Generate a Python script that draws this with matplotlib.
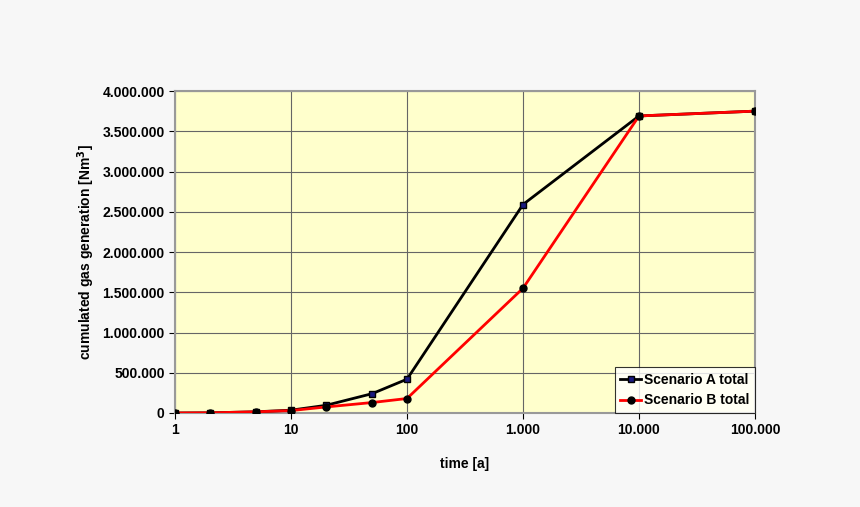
import matplotlib
matplotlib.use("Agg")
import matplotlib.pyplot as plt
from matplotlib.ticker import FuncFormatter, FixedLocator

plt.rcParams['font.family'] = ['Liberation Sans', 'DejaVu Sans']

time_a = [1, 2, 5, 10, 20, 50, 100, 1000, 10000, 100000]
scenario_a = [0, 2000, 15000, 35000, 95000, 240000, 420000, 2590000, 3690000, 3750000]
scenario_b = [0, 2000, 15000, 30000, 75000, 130000, 180000, 1550000, 3690000, 3750000]
y_ticks = [0, 500000, 1000000, 1500000, 2000000, 2500000, 3000000, 3500000, 4000000]
x_ticks = [1, 10, 100, 1000, 10000, 100000]

def dots(v, pos=None):
    return f"{int(round(v)):,}".replace(",", ".")

fig = plt.figure(figsize=(8.6, 5.07), dpi=100, facecolor='#f7f7f7')
ax = fig.add_axes([175/860, 1-413/507, 580/860, 322/507])
ax.set_facecolor('#ffffcc')

ax.plot(time_a, scenario_a, color='black', lw=2, marker='s', ms=5,
        mfc='#1a1a80', mec='black', label='Scenario A total', zorder=3)
ax.plot(time_a, scenario_b, color='red', lw=2, marker='o', ms=5,
        mfc='black', mec='black', label='Scenario B total', zorder=4)

ax.set_xscale('log')
ax.set_xlim(1, 100000)
ax.set_ylim(0, 4000000)
ax.xaxis.set_major_locator(FixedLocator(x_ticks))
ax.xaxis.set_minor_locator(FixedLocator([]))
ax.xaxis.set_major_formatter(FuncFormatter(dots))
ax.set_yticks(y_ticks)
ax.yaxis.set_major_formatter(FuncFormatter(dots))
ax.grid(True, axis='both', color='#666666', lw=0.8)
ax.set_axisbelow(True)
for s in ax.spines.values():
    s.set_color('#999999')
    s.set_linewidth(1.5)
ax.tick_params(colors='black', labelsize=10, length=4, direction='out')
for lbl in ax.get_xticklabels() + ax.get_yticklabels():
    lbl.set_fontweight('bold')

ax.set_xlabel('time [a]', fontsize=10, fontweight='bold', labelpad=14)
ax.set_ylabel('cumulated gas generation [Nm$^\\mathbf{3}$]', fontsize=10, fontweight='bold')

leg = ax.legend(loc='lower right', frameon=True, fancybox=False, fontsize=10,
                borderaxespad=0, handlelength=1.5, handletextpad=0.2,
                prop={'weight': 'bold', 'size': 10})
leg.get_frame().set_edgecolor('black')
leg.get_frame().set_linewidth(0.8)

fig.savefig('out.png', dpi=100, facecolor=fig.get_facecolor())
